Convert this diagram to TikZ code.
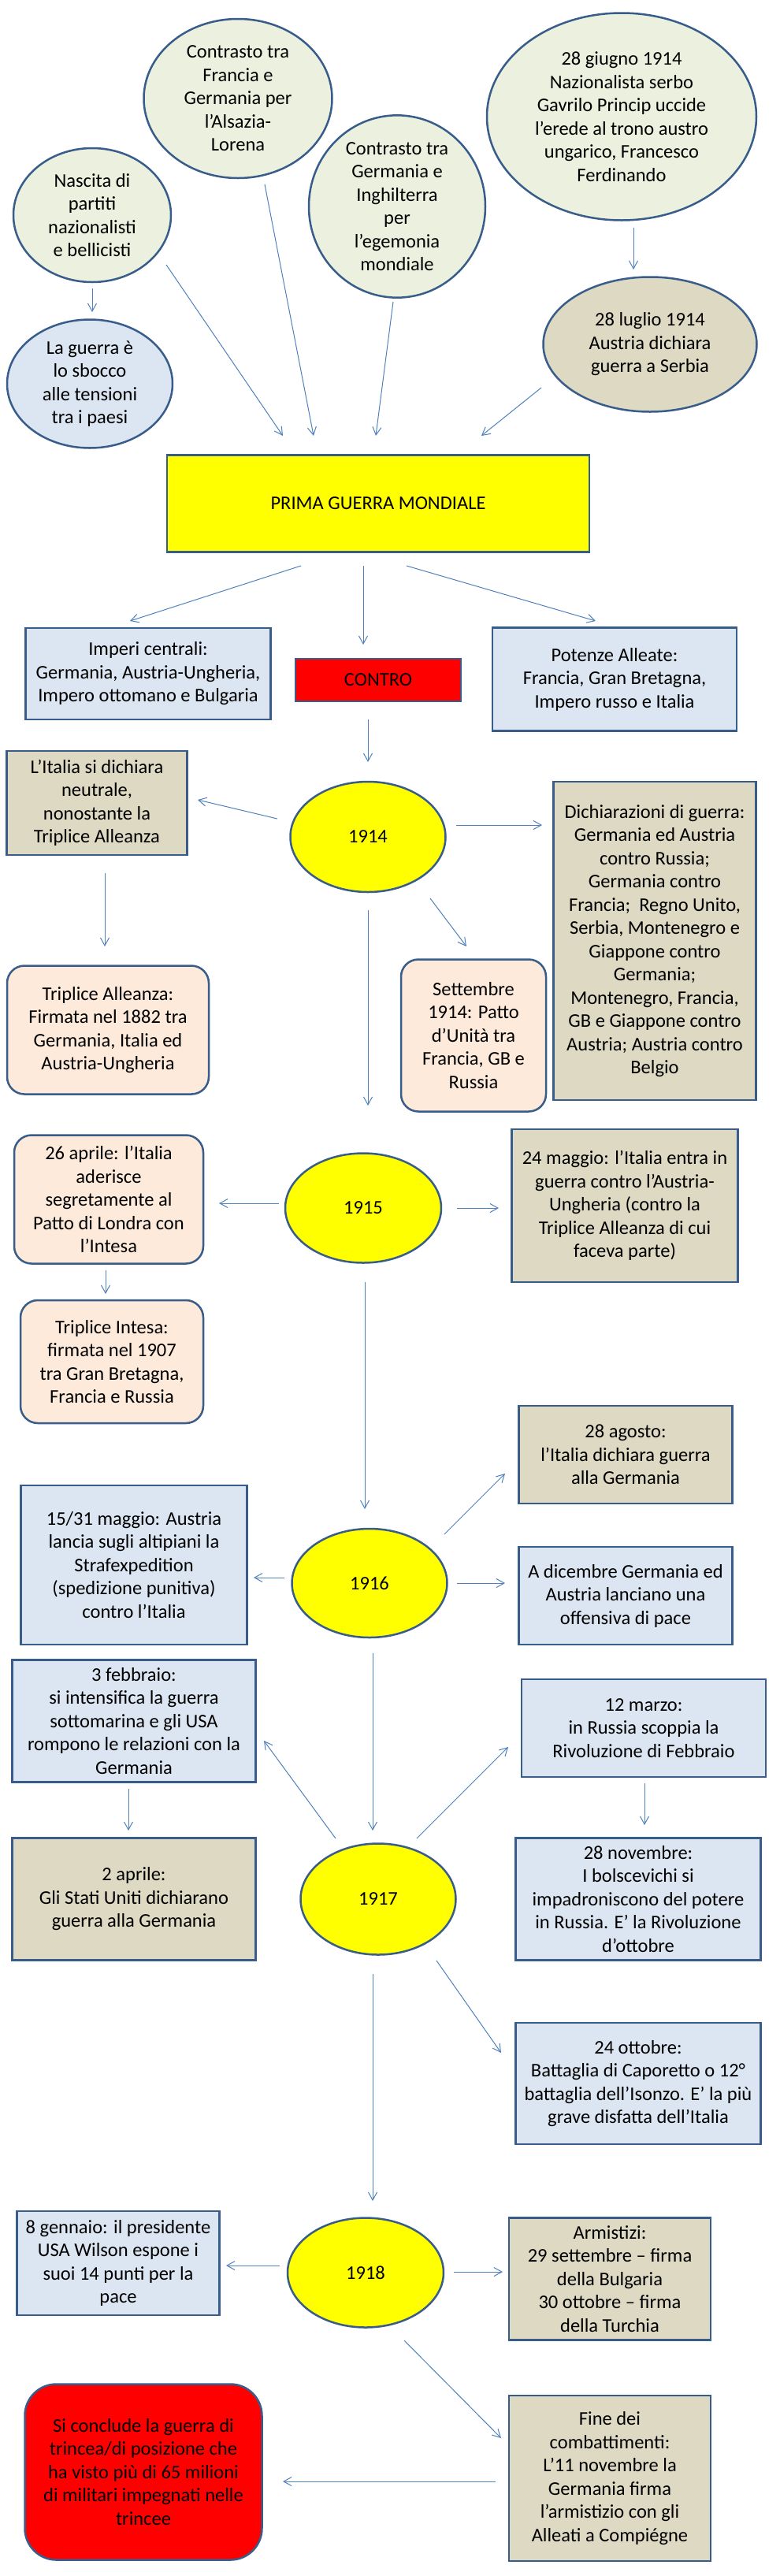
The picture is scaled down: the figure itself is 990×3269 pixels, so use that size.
\documentclass[tikz,border=0pt]{standalone}
\usepackage{fontspec}
\setmainfont{Carlito}
\usetikzlibrary{shapes.geometric,arrows.meta,calc}
\definecolor{bordo}{HTML}{385D8A}
\definecolor{freccia}{HTML}{4F81BD}
\definecolor{verdino}{HTML}{EBF1DE}
\definecolor{azzurro}{HTML}{DCE6F2}
\definecolor{sabbia}{HTML}{DDD9C3}
\definecolor{pesca}{HTML}{FDEADA}
\definecolor{giallo}{HTML}{FFFF00}
\definecolor{rosso}{HTML}{FF0000}
\tikzset{
  base/.style={draw=bordo,line width=2.5pt,align=center,inner sep=0pt,
    font=\fontsize{24.5}{29.5}\selectfont},
  ell/.style={base,ellipse,fill=verdino},
  ellblu/.style={base,ellipse,fill=azzurro},
  ellsab/.style={base,ellipse,fill=sabbia},
  anno/.style={base,ellipse,fill=giallo},
  boxblu/.style={base,rectangle,fill=azzurro},
  boxsab/.style={base,rectangle,fill=sabbia},
  boxpes/.style={base,rectangle,rounded corners=22pt,fill=pesca},
  arr/.style={draw=freccia,line width=1pt,-{Straight Barb[length=10pt,width=11pt]}}
}
\newcommand\conn[4]{\draw[arr] ($(#1)+#2$) -- ($(#3)+#4$);}
\begin{document}
\begin{tikzpicture}[x=1pt,y=-1pt]
\useasboundingbox[fill=white] (0,0) rectangle (990,3269);
% top ellipses
\node[ell,minimum width=200,minimum height=170] (A) at (117,273) {Nascita di\\partiti\\nazionalisti\\e bellicisti};
\node[ell,minimum width=239,minimum height=202] (B) at (302,125) {Contrasto tra\\Francia e\\Germania per\\l’Alsazia-\\Lorena};
\node[ell,minimum width=224,minimum height=209] (C) at (504,262) {Contrasto tra\\Germania e\\Inghilterra\\per\\l’egemonia\\mondiale};
\node[ell,minimum width=342,minimum height=263] (D) at (789,148) {28 giugno 1914\\Nazionalista serbo\\Gavrilo Princip uccide\\l’erede al trono austro\\ungarico, Francesco\\Ferdinando};
\node[ellblu,minimum width=210,minimum height=163] (E) at (114,487) {La guerra è\\lo sbocco\\alle tensioni\\tra i paesi};
\node[ellsab,minimum width=271,minimum height=171] (F) at (825,437) {28 luglio 1914\\Austria dichiara\\guerra a Serbia};
% main
\node[base,rectangle,fill=giallo,minimum width=536,minimum height=123] (main) at (480,639) {PRIMA GUERRA MONDIALE};
\node[boxblu,minimum width=311,minimum height=116] (imp) at (188,855) {Imperi centrali:\\Germania, Austria-Ungheria,\\Impero ottomano e Bulgaria};
\node[base,rectangle,fill=rosso,minimum width=210,minimum height=54] (contro) at (480,863) {CONTRO};
\node[boxblu,minimum width=310,minimum height=131] (pot) at (780,862) {Potenze Alleate:\\Francia, Gran Bretagna,\\Impero russo e Italia};
% 1914
\node[anno,minimum width=197,minimum height=140] (y14) at (467,1062) {1914};
\node[boxsab,minimum width=229,minimum height=132] (neut) at (123,1019) {L’Italia si dichiara\\neutrale,\\nonostante la\\Triplice Alleanza};
\node[boxsab,minimum width=257,minimum height=404] (dich) at (831,1194) {Dichiarazioni di guerra:\\Germania ed Austria\\contro Russia;\\Germania contro\\Francia;\ \ Regno Unito,\\Serbia, Montenegro e\\Giappone contro\\Germania;\\Montenegro, Francia,\\GB e Giappone contro\\Austria; Austria contro\\Belgio};
\node[boxpes,minimum width=256,minimum height=163] (tall) at (137,1307) {Triplice Alleanza:\\Firmata nel 1882 tra\\Germania, Italia ed\\Austria-Ungheria};
\node[boxpes,minimum width=184,minimum height=193] (sett) at (601,1314) {Settembre\\1914: Patto\\d’Unità tra\\Francia, GB e\\Russia};
% 1915
\node[anno,minimum width=198,minimum height=139] (y15) at (461,1533) {1915};
\node[boxpes,minimum width=240,minimum height=163] (apr26) at (138,1522) {26 aprile: l’Italia\\aderisce\\segretamente al\\Patto di Londra con\\l’Intesa};
\node[boxsab,minimum width=287,minimum height=194] (mag24) at (793,1530) {24 maggio: l’Italia entra in\\guerra contro l’Austria-\\Ungheria (contro la\\Triplice Alleanza di cui\\faceva parte)};
\node[boxpes,minimum width=232,minimum height=156] (tint) at (142,1728) {Triplice Intesa:\\firmata nel 1907\\tra Gran Bretagna,\\Francia e Russia};
% 1916
\node[boxsab,minimum width=271,minimum height=124] (ago28) at (794,1846) {28 agosto:\\l’Italia dichiara guerra\\alla Germania};
\node[boxblu,minimum width=287,minimum height=202] (mag15) at (170,1986) {15/31 maggio: Austria\\lancia sugli altipiani la\\Strafexpedition\\(spedizione punitiva)\\contro l’Italia};
\node[anno,minimum width=197,minimum height=138] (y16) at (469,2009) {1916};
\node[boxblu,minimum width=271,minimum height=124] (dic) at (794,2025) {A dicembre Germania ed\\Austria lanciano una\\offensiva di pace};
% 1917
\node[boxblu,minimum width=309,minimum height=155] (feb3) at (170,2184) {3 febbraio:\\si intensifica la guerra\\sottomarina e gli USA\\rompono le relazioni con la\\Germania};
\node[boxblu,minimum width=310,minimum height=124] (mar12) at (817,2193) {12 marzo:\\in Russia scoppia la\\Rivoluzione di Febbraio};
\node[boxsab,minimum width=309,minimum height=155] (apr2) at (170,2410) {2 aprile:\\Gli Stati Uniti dichiarano\\guerra alla Germania};
\node[anno,minimum width=197,minimum height=141] (y17) at (480,2410) {1917};
\node[boxblu,minimum width=311,minimum height=155] (nov28) at (810,2410) {28 novembre:\\I bolscevichi si\\impadroniscono del potere\\in Russia. E’ la Rivoluzione\\d’ottobre};
\node[boxblu,minimum width=311,minimum height=154] (ott24) at (810,2644) {24 ottobre:\\Battaglia di Caporetto o 12°\\battaglia dell’Isonzo. E’ la più\\grave disfatta dell’Italia};
% 1918
\node[anno,minimum width=198,minimum height=139] (y18) at (464,2884) {1918};
\node[boxblu,minimum width=257,minimum height=132] (gen8) at (150,2872) {8 gennaio: il presidente\\USA Wilson espone i\\suoi 14 punti per la\\pace};
\node[boxsab,minimum width=256,minimum height=155] (arm) at (774,2892) {Armistizi:\\29 settembre – firma\\della Bulgaria\\30 ottobre – firma\\della Turchia};
\node[boxsab,minimum width=256,minimum height=210] (fine) at (774,3145) {Fine dei\\combattimenti:\\L’11 novembre la\\Germania firma\\l’armistizio con gli\\Alleati a Compiégne};
\node[base,rectangle,rounded corners=40pt,fill=rosso,minimum width=301,minimum height=223] (conc) at (182,3137) {Si conclude la guerra di\\trincea/di posizione che\\ha visto più di 65 milioni\\di militari impegnati nelle\\trincee};
% connectors
\conn{A}{(0,93)}{E}{(3,-91)}
\conn{A}{(94,63)}{main}{(-121,-86)}
\conn{B}{(34,109)}{main}{(-82,-86)}
\conn{C}{(-5,121)}{main}{(-3,-86)}
\conn{D}{(15,141)}{F}{(-21,-95)}
\conn{F}{(-138,55)}{main}{(131,-86)}
\conn{main}{(-98,79)}{imp}{(-23,-67)}
\conn{main}{(-19,79)}{contro}{(-19,-45)}
\conn{main}{(36,79)}{pot}{(-24,-74)}
\conn{contro}{(-13,50)}{y14}{(0,-95)}
\conn{y14}{(-115,-23)}{neut}{(128,-4)}
\conn{y14}{(112,-15)}{dich}{(-143,-147)}
\conn{neut}{(10,89)}{tall}{(-4,-106)}
\conn{y14}{(79,78)}{sett}{(-9,-113)}
\conn{y14}{(0,93)}{y15}{(6,-130)}
\conn{y15}{(-107,-6)}{apr26}{(140,5)}
\conn{y15}{(119,0)}{mag24}{(-160,3)}
\conn{apr26}{(-4,90)}{tint}{(-8,-86)}
\conn{y15}{(2,94)}{y16}{(-6,-94)}
\conn{y16}{(-108,-7)}{mag15}{(152,16)}
\conn{y16}{(95,-62)}{ago28}{(-153,24)}
\conn{y16}{(111,0)}{dic}{(-153,-16)}
\conn{y16}{(4,89)}{y17}{(-7,-87)}
\conn{y17}{(-54,-77)}{feb3}{(165,25)}
\conn{y17}{(49,-77)}{mar12}{(-172,24)}
\conn{feb3}{(-7,86)}{apr2}{(-7,-87)}
\conn{mar12}{(1,70)}{nov28}{(8,-94)}
\conn{y17}{(74,78)}{ott24}{(-174,-39)}
\conn{y17}{(-7,95)}{y18}{(9,-91)}
\conn{y18}{(-109,-9)}{gen8}{(137,3)}
\conn{y18}{(112,-1)}{arm}{(-136,-9)}
\conn{y18}{(49,86)}{fine}{(-138,-51)}
\conn{fine}{(-145,4)}{conc}{(177,12)}
\end{tikzpicture}
\end{document}
